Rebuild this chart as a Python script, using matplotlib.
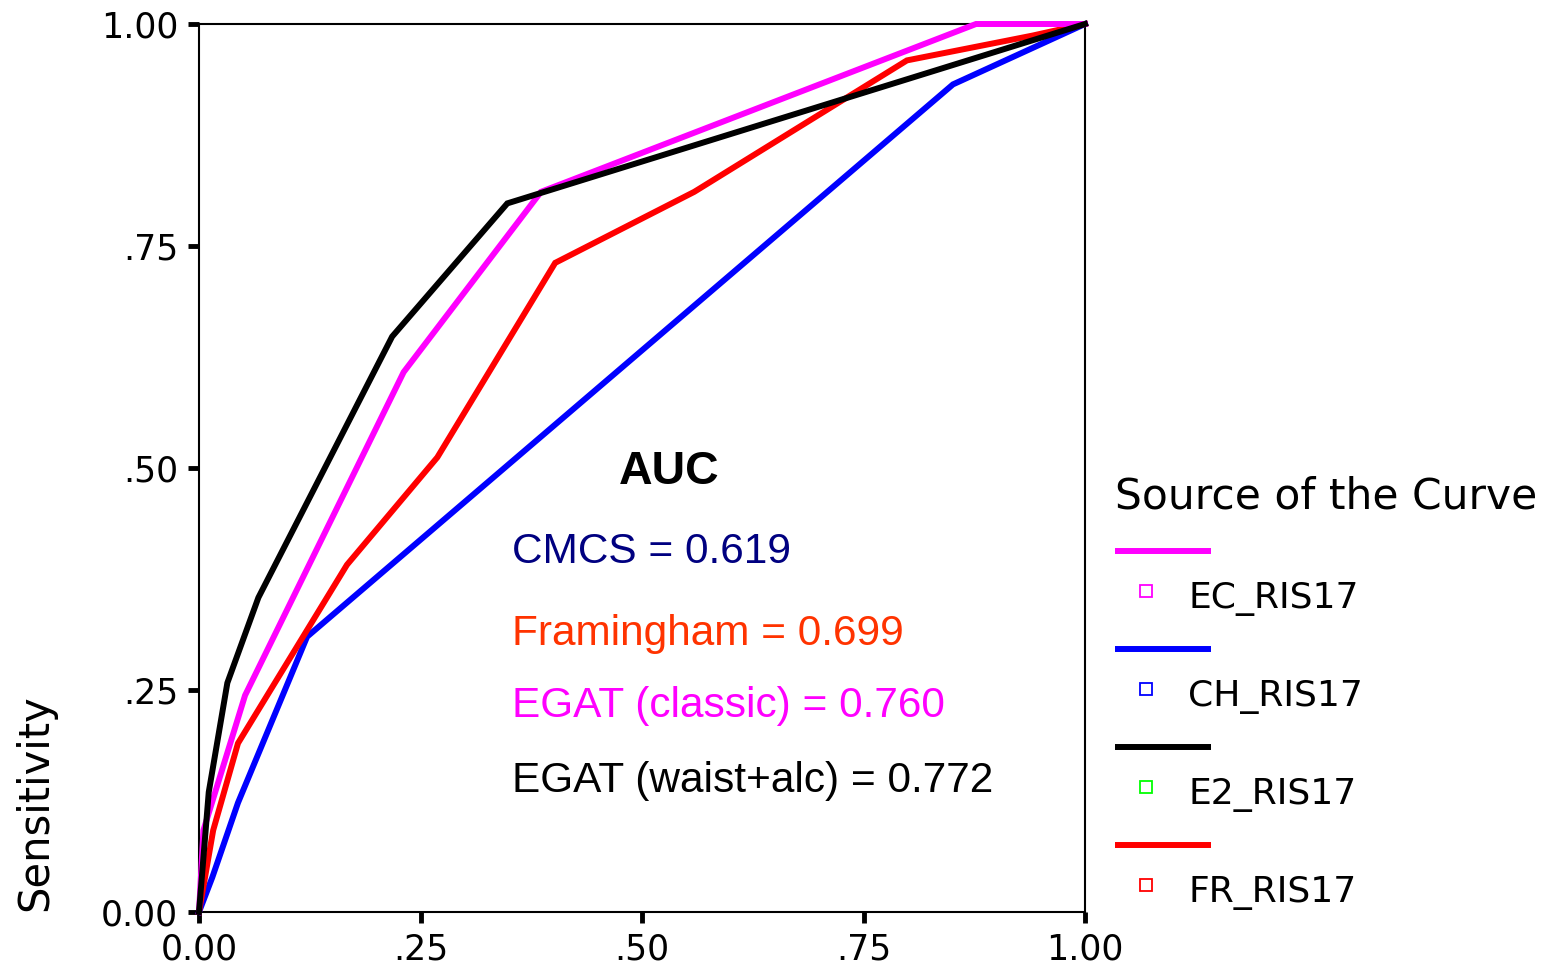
import matplotlib
matplotlib.use("Agg")
import matplotlib.pyplot as plt

# ROC curve points (1 - specificity, sensitivity)
ec_fpr = [0.0, 0.005, 0.052, 0.231, 0.386, 0.877, 1.0]
ec_tpr = [0.0, 0.092, 0.244, 0.608, 0.811, 1.0, 1.0]

ch_fpr = [0.0, 0.015, 0.044, 0.122, 0.851, 1.0]
ch_tpr = [0.0, 0.039, 0.123, 0.310, 0.932, 1.0]

e2_fpr = [0.0, 0.011, 0.032, 0.067, 0.218, 0.348, 1.0]
e2_tpr = [0.0, 0.135, 0.258, 0.354, 0.648, 0.798, 1.0]

fr_fpr = [0.0, 0.016, 0.044, 0.167, 0.269, 0.402, 0.559, 0.799, 0.941, 1.0]
fr_tpr = [0.0, 0.092, 0.190, 0.391, 0.512, 0.731, 0.811, 0.959, 0.987, 1.0]

series_names = ["EC_RIS17", "CH_RIS17", "E2_RIS17", "FR_RIS17"]
line_colors = ["#FF00FF", "#0000FF", "#000000", "#FF0000"]
marker_colors = ["#FF00FF", "#0000FF", "#00FF00", "#FF0000"]

auc_labels = ["CMCS = 0.619", "Framingham = 0.699",
              "EGAT (classic) = 0.760", "EGAT (waist+alc) = 0.772"]
auc_colors = ["#000080", "#FF3300", "#FF00FF", "#000000"]

tick_vals = [0.0, 0.25, 0.5, 0.75, 1.0]
tick_text = ["0.00", ".25", ".50", ".75", "1.00"]

W, H = 1553, 972
fig = plt.figure(figsize=(W / 100, H / 100), dpi=100)
ax = fig.add_axes([199 / W, 60 / H, 886 / W, 888 / H])

curves = [(ec_fpr, ec_tpr), (ch_fpr, ch_tpr), (e2_fpr, e2_tpr), (fr_fpr, fr_tpr)]
# draw order as in the reference: blue, red, magenta, black on top
for idx in [1, 3, 0, 2]:
    xs, ys = curves[idx]
    ax.plot(xs, ys, color=line_colors[idx], lw=4.3, solid_joinstyle="miter",
            clip_on=False, zorder=3)

ax.set_xlim(0, 1)
ax.set_ylim(0, 1)
ax.set_xticks(tick_vals)
ax.set_xticklabels(tick_text)
ax.set_yticks(tick_vals)
ax.set_yticklabels(tick_text)
for sp in ax.spines.values():
    sp.set_linewidth(1.5)
ax.tick_params(direction="out", length=8, width=3.5, pad=7, labelsize=25)
for lbl in ax.get_xticklabels() + ax.get_yticklabels():
    lbl.set_fontfamily("DejaVu Sans")

fig.text(35 / W, 1 - 803 / H, "Sensitivity", rotation=90, fontsize=30,
         family="DejaVu Sans", ha="center", va="center")

# AUC annotation
ax.text(0.531, 0.495, "AUC", transform=ax.transAxes, fontsize=33.5,
        fontweight="bold", family="Liberation Sans", ha="center", va="center")
auc_y = [0.405, 0.313, 0.232, 0.147]
for txt, col, yy in zip(auc_labels, auc_colors, auc_y):
    ax.text(0.353, yy, txt, transform=ax.transAxes, fontsize=30.5,
            color=col, family="Liberation Sans", ha="left", va="center")

# custom legend drawn in pixel coordinates
lax = fig.add_axes([0, 0, 1, 1], facecolor="none")
lax.set_xlim(0, W)
lax.set_ylim(H, 0)
lax.axis("off")
lax.text(1115, 496, "Source of the Curve", fontsize=30.5, family="DejaVu Sans",
         ha="left", va="center")
for i, name in enumerate(series_names):
    y_line = 551 + 98 * i
    lax.plot([1115, 1211], [y_line, y_line], color=line_colors[i], lw=4.3,
             solid_capstyle="butt")
    lax.plot([1146], [y_line + 40], marker="s", ms=9, mfc="none",
             mec=marker_colors[i], mew=1.3)
    lax.text(1188, y_line + 48, name, fontsize=26, family="DejaVu Sans",
             ha="left", va="center")

fig.savefig("out.png", dpi=100)
